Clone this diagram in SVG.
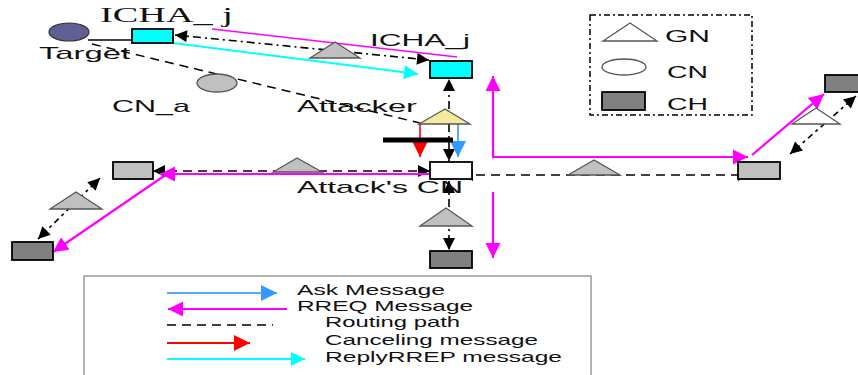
<svg xmlns="http://www.w3.org/2000/svg" width="858" height="375" viewBox="0 0 858 375">
  <style>
    .lbl { font-family: "Liberation Sans", Arial, sans-serif; font-size: 17px; fill: #111; }
    .key { font-family: "Liberation Sans", Arial, sans-serif; font-size: 15px; fill: #111; }
    .serif { font-family: "Liberation Serif", "Times New Roman", serif; font-size: 21px; fill: #111; }
    .box { stroke: #000; stroke-width: 1.8; }
    .tri { fill: #c0c0c0; stroke: #555; stroke-width: 1.3; }
    .route { fill: none; stroke: #000; stroke-width: 1.5; stroke-dasharray: 9 6; }
    .dashdot { fill: none; stroke: #000; stroke-width: 1.6; stroke-dasharray: 8 4 2 4; }
    .dotted { fill: none; stroke: #000; stroke-width: 1.6; stroke-dasharray: 3 4 6 4; }
    .rreq { fill: none; stroke: #ff00ff; stroke-width: 2.2; }
  </style>
  <defs>
    <marker id="ahBlack" viewBox="0 0 10 10" refX="10" refY="5" markerWidth="17" markerHeight="12" markerUnits="userSpaceOnUse" orient="auto-start-reverse">
      <path d="M0,0 L10,5 L0,10 z" fill="#000"/>
    </marker>
    <marker id="ahPink" viewBox="0 0 10 10" refX="10" refY="5" markerWidth="15" markerHeight="20" markerUnits="userSpaceOnUse" orient="auto-start-reverse">
      <path d="M0,0 L10,5 L0,10 z" fill="#ff00ff"/>
    </marker>
    <marker id="ahCyan" viewBox="0 0 10 10" refX="10" refY="5" markerWidth="24" markerHeight="14" markerUnits="userSpaceOnUse" orient="auto">
      <path d="M0,0 L10,5 L0,10 z" fill="#00ffff"/>
    </marker>
    <marker id="ahBlue" viewBox="0 0 10 10" refX="10" refY="5" markerWidth="16" markerHeight="17" markerUnits="userSpaceOnUse" orient="auto">
      <path d="M0,0 L10,5 L0,10 z" fill="#3399ff"/>
    </marker>
    <marker id="ahRed" viewBox="0 0 10 10" refX="10" refY="5" markerWidth="16" markerHeight="17" markerUnits="userSpaceOnUse" orient="auto">
      <path d="M0,0 L10,5 L0,10 z" fill="#ff0000"/>
    </marker>
  </defs>

  <rect width="858" height="375" fill="#fff"/>

  <!-- connectors -->
  <g id="connectors">
    <path d="M88,40 H132" stroke="#000" stroke-width="1.6"/>
    <path class="route" d="M92,44 L420,123"/>
    <path class="dashdot" d="M175,35 L429,60" marker-start="url(#ahBlack)" marker-end="url(#ahBlack)"/>
    <path d="M212,29 L457,57" stroke="#ff00ff" stroke-width="1.6" fill="none"/>
    <path d="M173,43 L418,74" stroke="#00ffff" stroke-width="2" fill="none" marker-end="url(#ahCyan)"/>
    <path class="dashdot" d="M449,109 V79" marker-end="url(#ahBlack)"/>
    <path d="M420,124 V157" stroke="#ff3030" stroke-width="2" fill="none" marker-end="url(#ahRed)"/>
    <path d="M449,124 V161" class="dashdot" marker-end="url(#ahBlack)"/>
    <path d="M458,124 V157" stroke="#5aa8ff" stroke-width="2" fill="none" marker-end="url(#ahBlue)"/>
    <path d="M383,140 H453" stroke="#000" stroke-width="5"/>
    <path class="route" d="M153,171 H430" marker-start="url(#ahBlack)" marker-end="url(#ahBlack)"/>
    <path class="rreq" d="M430,174 H160" marker-end="url(#ahPink)"/>
    <path class="rreq" d="M164,176 L53,252" marker-end="url(#ahPink)"/>
    <path class="dotted" d="M100,178 L38,239" marker-start="url(#ahBlack)" marker-end="url(#ahBlack)"/>
    <path class="route" d="M461,175 H750" marker-start="url(#ahBlack)" marker-end="url(#ahBlack)"/>
    <path class="rreq" d="M493,76 V157 H748" marker-start="url(#ahPink)" marker-end="url(#ahPink)"/>
    <path class="rreq" d="M752,155 L824,94" marker-end="url(#ahPink)"/>
    <path class="dotted" d="M856,96 L790,154" marker-start="url(#ahBlack)" marker-end="url(#ahBlack)"/>
    <path class="dashdot" d="M449,181 V250" marker-start="url(#ahBlack)" marker-end="url(#ahBlack)"/>
    <path class="rreq" d="M493,192 V258" marker-end="url(#ahPink)"/>
  </g>

  <!-- nodes -->
  <g id="target">
    <ellipse cx="69" cy="32" rx="20" ry="9" fill="#5f5f94" stroke="#333" stroke-width="1.2"/>
    <text class="lbl" x="39" y="59" textLength="91" lengthAdjust="spacingAndGlyphs">Target</text>
  </g>
  <g id="icha-left">
    <rect class="box" x="132" y="29" width="41" height="14" fill="#00ffff"/>
    <text class="serif" x="100" y="22" textLength="133" lengthAdjust="spacingAndGlyphs">ICHA_ j</text>
  </g>
  <g id="icha-right">
    <rect class="box" x="430" y="61" width="42" height="17" fill="#00ffff"/>
    <text class="lbl" x="370" y="46" textLength="100" lengthAdjust="spacingAndGlyphs">ICHA_j</text>
  </g>
  <g id="cn-a">
    <ellipse cx="217" cy="83" rx="20" ry="9" fill="#c0c0c0" stroke="#555" stroke-width="1.3"/>
    <text class="lbl" x="112" y="112" textLength="78" lengthAdjust="spacingAndGlyphs">CN_a</text>
  </g>
  <g id="attacker">
    <polygon points="445,109 419,124 470,124" fill="#f3ea9c" stroke="#555" stroke-width="1.3"/>
    <text class="lbl" x="297" y="112" textLength="120" lengthAdjust="spacingAndGlyphs">Attacker</text>
  </g>
  <g id="attack-cn">
    <rect class="box" x="430" y="162" width="42" height="17" fill="#fff"/>
    <text class="lbl" x="297" y="193" textLength="166" lengthAdjust="spacingAndGlyphs">Attack's CN</text>
  </g>
  <g id="gn-left-mid"><polygon class="tri" points="297,158 273,172 322,172"/></g>
  <g id="ch-left"><rect class="box" x="113" y="162" width="40" height="17" fill="#c0c0c0"/></g>
  <g id="gn-left-low"><polygon class="tri" points="76,192 50,209 102,209"/></g>
  <g id="ch-left-low"><rect class="box" x="12" y="242" width="41" height="18" fill="#808080"/></g>
  <g id="gn-top"><polygon class="tri" points="335,42 310,58 360,58"/></g>
  <g id="gn-down"><polygon class="tri" points="446,208 420,226 472,226"/></g>
  <g id="ch-down"><rect class="box" x="430" y="251" width="42" height="17" fill="#808080"/></g>
  <g id="gn-right-mid"><polygon class="tri" points="594,160 568,175 620,175"/></g>
  <g id="ch-right"><rect class="box" x="738" y="162" width="42" height="17" fill="#c0c0c0"/></g>
  <g id="gn-right-up"><polygon points="816,108 792,124 840,124" fill="#fff" stroke="#555" stroke-width="1.3"/></g>
  <g id="ch-right-up"><rect class="box" x="825" y="75" width="40" height="17" fill="#808080"/></g>

  <!-- node type key -->
  <g id="node-key">
    <rect x="590" y="15" width="162" height="100" fill="none" stroke="#000" stroke-width="1.5" stroke-dasharray="6 3 2 3"/>
    <polygon points="630,23 603,41 657,41" fill="#fff" stroke="#555" stroke-width="1.3"/>
    <text class="lbl" x="665" y="42" textLength="45" lengthAdjust="spacingAndGlyphs">GN</text>
    <ellipse cx="624" cy="67" rx="22" ry="8" fill="#fff" stroke="#555" stroke-width="1.3"/>
    <text class="lbl" x="667" y="78" textLength="41" lengthAdjust="spacingAndGlyphs">CN</text>
    <rect class="box" x="602" y="92" width="43" height="18" fill="#808080"/>
    <text class="lbl" x="667" y="110" textLength="41" lengthAdjust="spacingAndGlyphs">CH</text>
  </g>

  <!-- message key -->
  <g id="message-key">
    <rect x="84" y="276" width="507" height="110" fill="none" stroke="#999" stroke-width="1.5"/>
    <path d="M167,293 H277" stroke="#5aa8ff" stroke-width="1.8" marker-end="url(#ahBlue)"/>
    <text class="key" x="297" y="295" textLength="148" lengthAdjust="spacingAndGlyphs">Ask Message</text>
    <path d="M287,309 H168" stroke="#ff00ff" stroke-width="2" marker-end="url(#ahPink)"/>
    <text class="key" x="297" y="311" textLength="176" lengthAdjust="spacingAndGlyphs">RREQ Message</text>
    <path class="route" d="M167,325 H273"/>
    <text class="key" x="325" y="327" textLength="135" lengthAdjust="spacingAndGlyphs">Routing path</text>
    <path d="M167,343 H250" stroke="#ff0000" stroke-width="1.8" marker-end="url(#ahRed)"/>
    <text class="key" x="325" y="345" textLength="213" lengthAdjust="spacingAndGlyphs">Canceling message</text>
    <path d="M167,359 H305" stroke="#00ffff" stroke-width="2" marker-end="url(#ahCyan)"/>
    <text class="key" x="325" y="362" textLength="237" lengthAdjust="spacingAndGlyphs">ReplyRREP message</text>
  </g>
</svg>
